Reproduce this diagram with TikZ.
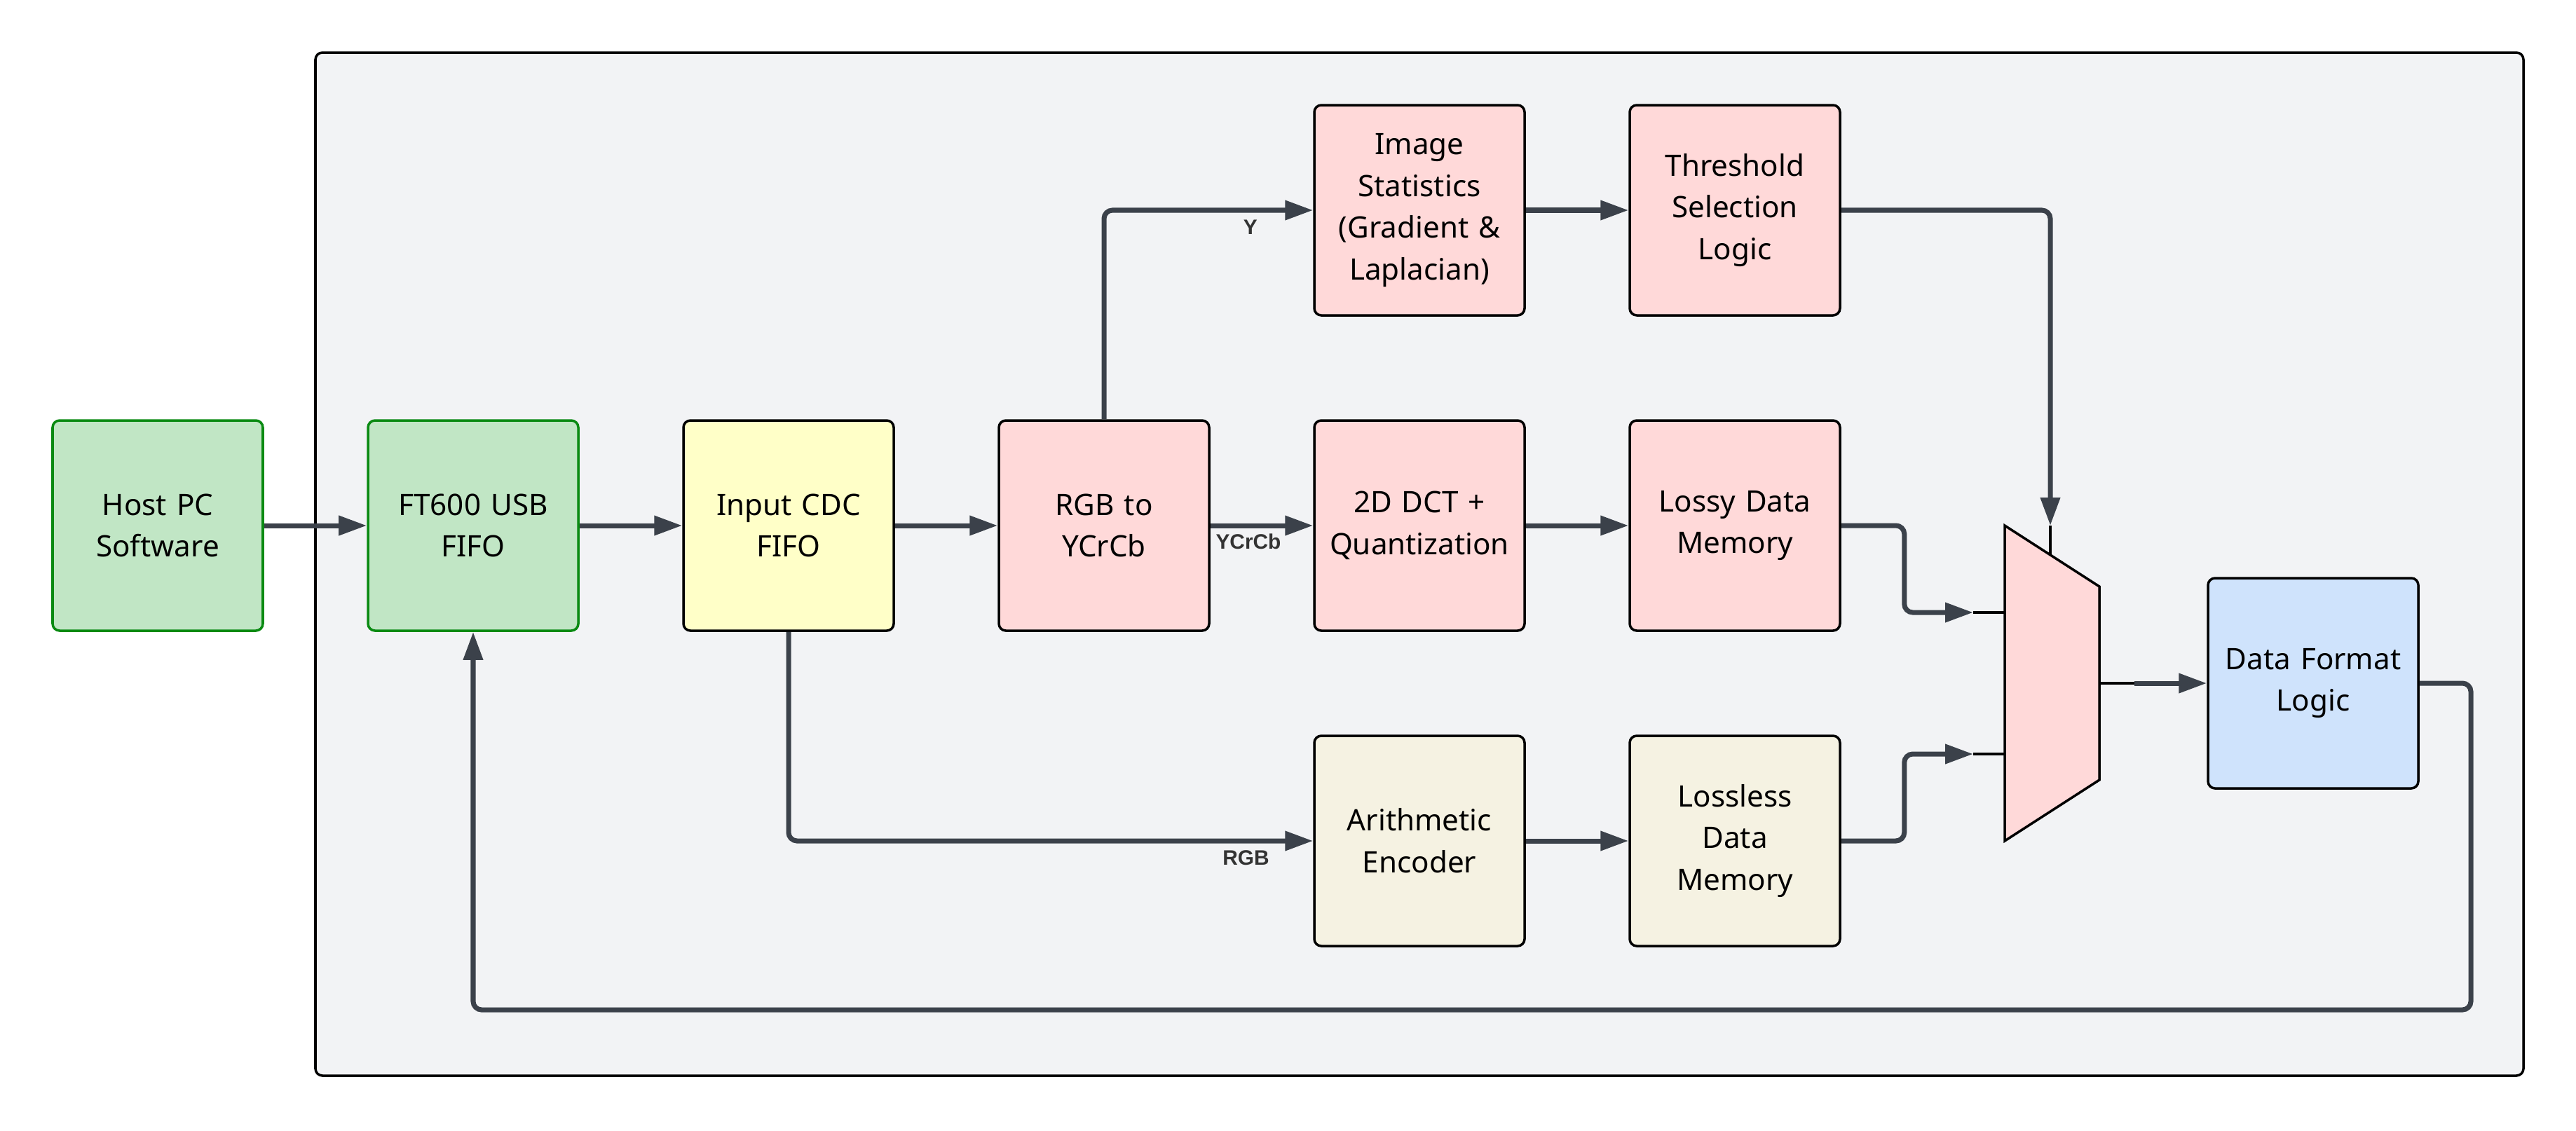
\documentclass[tikz,border=0pt]{standalone}
\usepackage{fontspec}
\setmainfont{Noto Sans}
\newfontfamily\sigfont{Liberation Sans}
\usetikzlibrary{arrows.meta}
\definecolor{panelbg}{HTML}{F2F3F5}
\definecolor{wirecol}{HTML}{3B414A}
\definecolor{pinkfill}{HTML}{FFD9D9}
\definecolor{greenfill}{HTML}{C1E6C5}
\definecolor{greenline}{HTML}{0A8A12}
\definecolor{yellowfill}{HTML}{FFFFC8}
\definecolor{beigefill}{HTML}{F5F2E2}
\definecolor{bluefill}{HTML}{CFE3FC}
\definecolor{sigtext}{HTML}{333333}
\tikzset{
    block/.style={draw=black,line width=1pt,rounded corners=1mm,minimum width=3cm,minimum height=3cm,
        text width=2.8cm,align=center,inner sep=1mm,font=\fontsize{12}{17}\selectfont},
    wire/.style={draw=wirecol,line width=2pt,rounded corners=1.2mm,-{Triangle[length=4mm,width=2.7mm]}},
    stub/.style={draw=black,line width=1pt},
    sig/.style={text=sigtext,inner sep=1pt,font=\sigfont\bfseries\fontsize{8.5}{10}\selectfont},
}
\begin{document}
\begin{tikzpicture}
    \useasboundingbox(0,0)rectangle(36.75,-16.13);
    % FPGA panel
    \draw[fill=panelbg,line width=1pt,rounded corners=1mm](4.5,-0.75)rectangle(36,-15.35);

    \node[block,fill=greenfill,draw=greenline](host)at(2.25,-7.5){Host PC\\Software};
    \node[block,fill=greenfill,draw=greenline](usb)at(6.75,-7.5){FT600 USB\\FIFO};
    \node[block,fill=yellowfill](cdc)at(11.25,-7.5){Input CDC\\FIFO};
    \node[block,fill=pinkfill](csc)at(15.75,-7.5){RGB to\\YCrCb};
    \node[block,fill=pinkfill](stats)at(20.25,-3){Image\\Statistics\\(Gradient \&\\Laplacian)};
    \node[block,fill=pinkfill](thresh)at(24.75,-3){Threshold\\Selection\\Logic};
    \node[block,fill=pinkfill](dct)at(20.25,-7.5){2D DCT +\\Quantization};
    \node[block,fill=pinkfill](lossy)at(24.75,-7.5){Lossy Data\\Memory};
    \node[block,fill=beigefill](arith)at(20.25,-12){Arithmetic\\Encoder};
    \node[block,fill=beigefill](lossless)at(24.75,-12){Lossless\\Data\\Memory};
    \node[block,fill=bluefill](fmt)at(33,-9.75){Data Format\\Logic};

    % mux
    \draw[stub,fill=pinkfill](28.6,-7.5)--(29.95,-8.37)--(29.95,-11.13)--(28.6,-12)--cycle;
    \coordinate(muxa)at(28.6,-8.74);
    \coordinate(muxb)at(28.6,-10.76);
    \coordinate(muxs)at(29.25,-7.92);
    \coordinate(muxo)at(29.95,-9.75);
    \coordinate(muxat)at(28.15,-8.74);
    \coordinate(muxbt)at(28.15,-10.76);
    \coordinate(muxst)at(29.25,-7.5);
    \coordinate(muxot)at(30.45,-9.75);
    \draw[stub](muxat)--(muxa)(muxbt)--(muxb)(muxst)--(muxs)(muxo)--(muxot);

    \draw[wire](host)--(usb);
    \draw[wire](usb)--(cdc);
    \draw[wire](cdc)--(csc);
    \draw[wire](csc)--(dct)node[sig,pos=0.37,below=1.5pt]{YCrCb};
    \draw[wire](csc.north)|-(stats.west)node[sig,pos=0.85,below=2pt]{Y};
    \draw[wire](cdc.south)|-(arith.west)node[sig,pos=0.936,below=2pt]{RGB};
    \draw[wire](stats)--(thresh);
    \draw[wire](dct)--(lossy);
    \draw[wire](arith)--(lossless);
    \draw[wire](thresh.east)-|(muxst);
    \draw[wire](lossy.east)--++(0.9,0)|-(muxat);
    \draw[wire](lossless.east)--++(0.9,0)|-(muxbt);
    \draw[wire](muxot)--(fmt.west);
    % feedback to host side
    \coordinate(fbk)at(35.25,-14.41);
    \draw[wire](fmt.east)-|(fbk)-|(usb.south);
\end{tikzpicture}
\end{document}
